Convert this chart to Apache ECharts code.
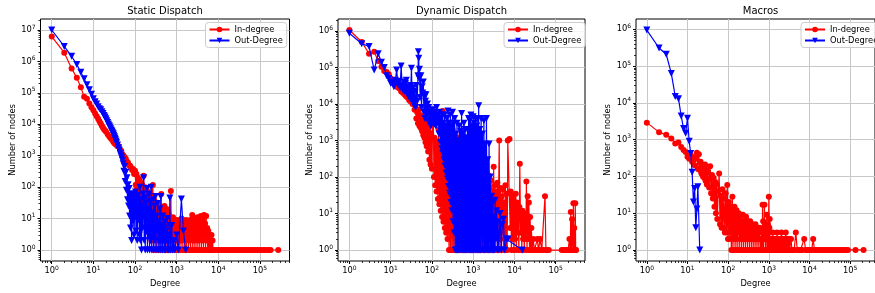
<!DOCTYPE html>
<html>
<head>
<meta charset="utf-8">
<script src="https://cdn.jsdelivr.net/npm/echarts@6/dist/echarts.min.js"></script>
<style>
  html, body { margin: 0; padding: 0; background: #fff; }
  #chart { width: 875px; height: 293px; }
</style>
</head>
<body>
<div id="chart"></div>
<script>
// panel titles and legend names
const titles = ['Static Dispatch', 'Dynamic Dispatch', 'Macros'];
const seriesNames = ['In-degree', 'Out-Degree'];

// major tick values (decades)
const xTicks = [1, 10, 100, 1e3, 1e4, 1e5];
const yTicksStatic = [1, 10, 100, 1e3, 1e4, 1e5, 1e6, 1e7];
const yTicksOther = [1, 10, 100, 1e3, 1e4, 1e5, 1e6];

// [degree, number of nodes]
const staticIn = [[1,6.2e6],[2,1.9e6],[3,6e5],[4,3e5],[5,1.5e5],[6,7.5e4],[7,6.5e4],[8,4.6e4],[9,3.5e4],[10,2.8e4],[11,2.2e4],[12,1.8e4],[13,1.5e4],[14,1.25e4],[15,1.05e4],[16,9e3],[17,7.8e3],[18,7e3],[19,6.4e3],[20,5.9e3],[22,4.8e3],[24,4.1e3],[26,3.6e3],[28,3.2e3],[30,2.8e3],[32,2.5e3],[34,2.3e3],[36,2.2e3],[38,2e3],[41,2e3],[44,1.5e3],[47,1.4e3],[50,1.1e3],[53,1e3],[56,900],[60,800],[64,650],[68,600],[72,500],[76,480],[80,420],[85,350],[90,380],[95,260],
  [100,330],[104,120],[108,260],[112,90],[117,200],[122,70],[127,170],[132,50],[137,140],[143,35],[149,120],[155,25],[161,230],[167,18],[174,100],[181,12],[188,85],[196,8],[204,70],[212,5],[220,60],[229,4],[238,50],[248,2],[258,45],[268,117],[279,1],[290,38],[302,3],[314,32],[326,1],[339,28],[353,2],[367,24],[382,1],
  [390,1],[402,22],[414,2],[426,60],[439,1],[452,18],[466,3],[480,15],[494,1],[509,25],[524,2],[540,12],[556,1],[573,20],[590,3],[608,10],[626,1],[645,14],[664,2],[684,9],[705,1],[726,75],[748,1],[770,8],[793,2],[817,11],[842,1],[867,7],[893,3],[920,9],[947,1],[976,6],[1005,2],[1035,9],[1066,1],[1098,7],[1131,2],[1165,5],[1200,1],[1236,8],[1273,2],[1311,10],[1351,1],[1391,6],[1433,3],[1476,8],[1520,1],[1566,7],[1613,2],[1661,9],[1711,1],[1762,6],[1815,3],[1870,8],[1926,1],[1984,7],[2043,2],[2104,9],[2168,1],[2233,6],[2300,3],[2369,13],[2440,1],[2513,7],[2588,2],[2666,10],[2746,1],[2828,8],[2913,3],[3000,6],[3090,1],[3183,11],[3278,2],[3377,8],[3478,1],[3582,9],[3690,3],[3800,12],[3914,1],[4032,6],[4153,2],[4277,9],[4406,1],[4538,13],[4674,3],[4814,7],[4959,1],[5107,12],[5261,2],[5418,5],[5581,1],[5748,4],[5921,1],[6098,3],[6281,1],[6470,2],[6664,1],[6864,3],[7070,1],[7282,2],[7500,1],
  [8500,1],[9500,1],[10500,1],[12000,1],[13500,1],[15000,1],[17000,1],[19000,1],[21500,1],[24000,1],[27000,1],[30000,1],[34000,1],[38000,1],[43000,1],[48000,1],[54000,1],[60000,1],[68000,1],[76000,1],[86000,1],[97000,1],[110000,1],[125000,1],[140000,1],[160000,1],[180000,1],[275000,1]];
const staticOut = [[1,1e7],[2,3e6],[3,1.45e6],[4,8e5],[5,4.5e5],[6,2.8e5],[7,1.8e5],[8,1.26e5],[9,9e4],[10,6.5e4],[11,5.2e4],[12,4.4e4],[13,3.6e4],[14,3.1e4],[15,2.9e4],[16,2.5e4],[17,2.2e4],[18,1.9e4],[19,1.7e4],[20,1.5e4],[21,1.3e4],[22,1.15e4],[23,1e4],[24,9e3],[25,8.2e3],[26,7.2e3],[27,6.5e3],[28,6e3],[29,5.4e3],[30,5e3],[31,4.5e3],[32,4e3],[33,3.6e3],[34,3.2e3],[35,2.9e3],[36,2.6e3],[38,2.2e3],[40,1.8e3],[42,1.5e3],[44,1.2e3],[46,1e3],[48,850],[50,700],[52,560],[54,320],[56,450],[58,150],[60,300],[62,80],[64,200],[66,40],[68,120],[70,25],[72,90],[74,12],[76,60],[78,5],[80,50],[83,2],[86,40],[89,8],[92,60],[95,3],[98,45],
  [100,12],[103,70],[106,4],[109,35],[113,2],[116,55],[120,9],[123,40],[127,3],[131,100],[135,2],[139,40],[143,1],[148,25],[152,5],[157,60],[161,200],[166,2],[171,45],[176,1],[182,30],[187,4],[193,90],[199,1],[205,20],[211,3],[217,60],[224,1],[230,35],[237,2],[244,100],[252,1],[259,15],[267,3],[275,40],[283,1],[292,25],[300,2],[309,50],[319,1],[328,12],[338,4],[348,30],[359,1],[370,8],[381,2],[392,20],[404,1],[416,50],[428,2],[441,6],[454,1],[468,12],[482,2],[497,5],[512,1],[527,8],[543,1],[559,4],[576,2],[593,10],[611,1],[629,3],[648,1],[668,6],[688,45],[708,1],
  [760,6],[800,1],[850,2],[900,1],[1000,3],[1100,1],[1300,42],[1450,4],[1650,1]];
const dynamicIn = [[1,1.07e6],[2,5e5],[3,2.4e5],[4,2.7e5],[5,1.5e5],[6,1.05e5],[7,8e4],[8,7.6e4],[9,6.5e4],[10,5e4],[11,4.6e4],[12,3.6e4],[13,4.2e4],[14,3e4],[15,3.4e4],[16,2.7e4],[17,2.9e4],[18,2.2e4],[19,3.2e4],[20,2e4],[21,2.4e4],[22,1.8e4],[23,2.1e4],[24,1.6e4],[25,2.4e4],[26,1.5e4],[27,1.9e4],[28,1.3e4],[29,1.6e4],[30,1.2e4],[32,1.5e4],[34,1e4],[36,1.2e4],[38,7e3],[40,9e3],[42,4e3],[44,6e3],[46,3e3],[48,7e3],[50,2.5e3],[52,5e3],[54,2.2e3],[56,4.5e3],[58,1.8e3],[60,4e3],[62,1.4e3],[64,3.5e3],[66,1.2e3],[68,3e3],[70,900],[72,2.6e3],[75,700],[78,2.2e3],[81,500],[84,1.8e3],[87,300],[90,2.5e3],[93,220],[96,1.5e3],[100,170],[104,3e3],[108,6e3],[112,100],[116,1.2e3],[120,60],[125,900],[130,40],[135,700],[140,25],[146,2e3],[152,18],[158,500],[164,12],[170,1.5e3],[177,8],[184,6.5e3],[191,6],[198,800],[206,4],[214,400],[222,3],[231,1.2e3],[240,2],[250,300],[260,1],[270,600],[282,1],[294,200],[306,1],[318,2e3],[330,1],[345,150],[360,1],[375,800],[390,1],[405,100],[420,1],[440,1200],[460,1],[480,80],[500,1],[525,1.7e3],[550,1],[575,60],[600,1],[630,200],[660,1],[690,40],[720,1],[750,120],[790,1],[830,30],[870,1],[910,80],[950,1],[1000,25],[1050,1],[1100,60],[1150,1],[1200,20],[1260,1],[1320,40],[1380,1],[1450,15],[1520,1],[1600,30],[1680,1],[1760,10],[1850,1],[1920,25],
  [2000,1],[2070,25],[2140,2],[2220,60],[2300,1],[2380,110],[2460,3],[2550,50],[2640,1],[2730,80],[2830,2],[2930,40],[3030,1],[3140,190],[3250,2],[3360,60],[3480,1],[3600,40],[3730,3],[3860,70],[3990,1],[4130,30],[4280,1000],[4430,2],[4580,50],[4740,1],[4910,30],[5080,3],[5260,45],[5440,1],[5630,20],[5830,2],[6030,60],[6240,1],[6460,35],[6690,1],[6900,1000],[7600,1100],[7900,4],[8150,40],[8450,1],[8750,30],[9050,2],[9350,25],[9700,1],[10000,18],[10400,2],[10800,35],[11100,1],[11500,20],[11900,3],[12300,12],[12800,1],[13200,15],[13500,230],[14100,3],[14600,10],[15100,1],[15600,12],[16200,2],[16800,8],[17300,1],[17900,6],[18600,2],[19200,10],[19500,75],[20200,1],[20900,30],[21600,2],[22400,20],[23200,1],[24000,8],[24800,1],[25700,4],
  [27000,1],[28500,2],[30500,1],[33000,1],[36000,2],[38000,1],[40000,1],[42000,2],[46000,1],[50000,1],[55000,30],[58000,1],[62000,1],[68000,1],[140000,1],[155000,1],[170000,1],[185000,1],[200000,1],[215000,2],[225000,1],[232000,11],[240000,1],[250000,7],[260000,1],[268000,19],[275000,1],[282000,4],[290000,1],[298000,19],[305000,1],[312000,1]];
const dynamicOut = [[1,8.7e5],[2,4.5e5],[3,3.8e5],[4,8.5e4],[5,2.4e5],[6,1.4e5],[7,1e5],[8,6e4],[9,5e4],[10,3.7e4],[11,4e4],[12,3e4],[13,4.5e4],[14,8.5e4],[15,3.5e4],[16,4.2e4],[17,2.8e4],[18,1.1e5],[19,3.2e4],[20,2.4e4],[21,4e4],[22,2.2e4],[23,3.6e4],[24,4.5e4],[25,2e4],[26,3e4],[27,1.6e4],[28,2.5e4],[30,1.4e4],[31,3.2e4],[32,9.5e4],[33,2e4],[34,1.2e4],[35,2.8e4],[36,1e4],[38,2.2e4],[40,8e3],[42,3.2e4],[44,1.2e4],[46,6e4],[47,2.7e5],[48,1.8e5],[49,5e4],[50,9e4],[52,1.5e4],[54,6e4],[56,8e3],[58,3e4],[60,2e4],[62,4e4],[64,6e3],[66,1.8e4],[68,4e3],[70,1.2e4],[72,1.8e4],[75,5e3],[78,1e4],[81,3.5e3],[84,8e3],[87,3e3],[90,6e3],[94,2.5e3],[98,5e3],
  [100,3.5e3],[104,7e3],[108,3e3],[112,6e3],[116,2.8e3],[120,5e3],[125,2.5e3],[130,8e3],[136,3.2e3],[142,5e3],[148,1.5e3],[154,6e3],[160,900],[166,4e3],[172,600],[178,5e3],[184,450],[190,3e3],[196,300],[202,5e3],[209,200],[216,2.5e3],[223,130],[230,4e3],[238,90],[246,6.5e3],[254,55],[262,3e3],[270,35],[279,5e3],[288,20],[297,2.5e3],[306,12],[316,6e3],[326,6],[336,3e3],[346,3],[357,4e3],[368,1],[380,1.5e3],[392,1],[405,3e3],[418,1],[432,1e3],[446,1],[461,2.5e3],[476,1],[492,1.8e3],[508,1],[525,5.5e3],[542,1],[560,1.5e3],[578,1],[597,3e3],[617,1],[637,2e3],[658,1],[680,1.2e3],[702,1],[725,2e3],[749,1],[774,4e3],[800,1],[826,3.5e3],[853,1],[881,5e3],[910,1],[940,2.5e3],[971,1],[1003,4.5e3],[1036,1],[1070,3e3],[1105,1],[1141,4e3],[1178,1],[1216,2.5e3],[1256,1],[1297,4e3],[1339,1],[1360,9e3],[1400,1],[1450,2e3],[1500,1],[1560,4e3],[1620,1],[1680,1.5e3],[1750,1],[1820,3.5e3],[1890,1],[1960,800],[2030,1],[2100,4e3],[2180,1],[2260,300],[2340,1],[2430,800],[2520,1],[2600,100],[2700,1],[2800,30],[2900,1],[3000,20],[3100,1],[3200,8],[3300,1],[3400,23],[3550,2],[3700,12],[3850,1],[4000,6],[4200,1],[4500,10],[4800,1],[5100,5],[5400,7],[5800,1],[6400,2],[7000,2],[15500,1]];
const macrosIn = [[1,2900],[2,1600],[3,1350],[4,1070],[5,780],[6,830],[7,630],[8,520],[9,460],[10,340],[11,300],[12,380],[13,250],[14,330],[15,200],[16,300],[17,440],[18,160],[19,400],[20,150],[21,250],[22,120],[23,200],[24,100],[25,170],[26,90],[27,210],[28,75],[29,150],[30,60],[32,130],[34,50],[36,190],[38,35],[40,110],[42,25],[44,90],[46,15],[48,70],[50,10],[52,60],[54,7],[57,40],[60,120],[63,5],[66,30],[69,4],[72,45],[75,4],[79,25],[83,3],[87,35],[91,3],[95,58],[99,2],[104,20],[109,2],[114,15],
  [120,1],[124,12],[127,28],[131,1],[135,9],[139,2],[143,15],[148,1],[152,8],[157,2],[161,12],[166,1],[171,6],[176,3],[182,10],[187,1],[193,7],[199,2],[205,9],[211,1],[217,5],[224,2],[230,9],[237,1],[244,6],[252,2],[259,4],[267,1],[275,8],[283,2],[292,5],[300,1],[309,6],[319,2],[328,4],[338,1],[348,6],[359,2],[370,3],[381,1],[392,5],[404,2],[416,4],[428,1],[441,3],[454,2],[468,5],[482,1],[497,3],[512,2],[527,4],[543,1],[559,3],[576,2],[593,4],[611,1],[629,2],[648,1],[668,3],[688,1],
  [700,17],[710,2],[725,6],[740,1],[760,4],[780,17],[795,2],[810,5],[830,1],[850,4],[870,2],[890,9],[905,1],[920,3],[935,2],[950,5],[965,1],[980,3],[1000,28],[1015,1],[1030,4],[1050,7],[1070,1],[1090,2],
  [1100,1],[1128,2],[1156,1],[1185,2],[1214,1],[1245,3],[1276,1],[1308,2],[1340,1],[1374,2],[1408,1],[1443,2],[1479,1],[1516,2],[1554,1],[1593,3],[1633,1],[1674,2],[1716,1],[1759,2],[1803,1],[1848,2],[1894,1],[1941,2],[1990,1],[2040,3],[2091,1],[2143,2],[2196,1],[2251,2],[2308,1],[2365,2],[2424,1],[2485,2],[2547,1],[2611,3],[2676,1],[2743,2],[2812,1],[2882,2],[2954,1],[3028,2],[3104,1],[3181,2],[3261,1],
  [3500,2],[3700,1],[3950,1],[4200,1],[4600,3],[5000,1],[5500,1],[6000,1],[6600,1],[7400,2],[8000,1],[8800,1],[9600,1],[10500,1],[11300,1],[12300,2],[13200,1],[14500,1],[16000,1],[18000,1],[20000,1],[22500,1],[25000,1],[28000,1],[31000,1],[35000,1],[39000,1],[44000,1],[50000,1],[56000,1],[63000,1],[71000,1],[80000,1],[88000,1],[135000,1],[213000,1]];
const macrosOut = [[1,9.5e5],[2,3.1e5],[3,2.1e5],[4,6.3e4],[5,1.5e4],[6,1.3e4],[7,4.4e3],[8,2e3],[9,1.5e3],[10,3.8e3],[11,900],[12,420],[13,130],[14,20],[15,47],[16,4],[17,13],[18,52],[20,1]];

const panelData = [[staticIn, staticOut], [dynamicIn, dynamicOut], [macrosIn, macrosOut]];

// layout of the three axes boxes (pixels) and their log10 limits
const panels = [
  { left: 40.5, width: 249, xr: [-0.27, 5.71], yr: [-0.35, 7.35], yTicks: yTicksStatic, legendLeft: 205.5 },
  { left: 338, width: 247, xr: [-0.275, 5.71], yr: [-0.30, 6.33], yTicks: yTicksOther, legendLeft: 504 },
  { left: 636, width: 249, xr: [-0.266, 5.61], yr: [-0.30, 6.28], yTicks: yTicksOther, legendLeft: 801 }
];

const FONT = 'DejaVu Sans';

// "10" with a raised exponent, like matplotlib's mathtext
function powLabel(v) {
  const e = Math.log10(v);
  const r = Math.round(e);
  if (Math.abs(e - r) > 1e-6) return '';
  return '{b|10}{s|' + r + '}';
}
const powRich = {
  b: { fontSize: 8.3, lineHeight: 12, fontFamily: FONT, color: '#000' },
  s: { fontSize: 6, lineHeight: 6, verticalAlign: 'top', fontFamily: FONT, color: '#000' }
};

function minorTicks(lo, hi) {
  const out = [];
  for (let e = Math.floor(lo); e <= Math.ceil(hi); e++) {
    for (let m = 2; m <= 9; m++) {
      const v = m * Math.pow(10, e);
      const lv = Math.log10(v);
      if (lv > lo && lv < hi) out.push(v);
    }
  }
  return out;
}

const grid = [], xAxis = [], yAxis = [], series = [], legend = [], graphic = [];

panels.forEach(function (p, i) {
  grid.push({
    left: p.left, top: 19, width: p.width, height: 242,
    show: true, borderColor: '#000', borderWidth: 1, backgroundColor: 'transparent'
  });
  xAxis.push({
    type: 'log', gridIndex: i, position: 'bottom',
    min: Math.pow(10, p.xr[0]), max: Math.pow(10, p.xr[1]),
    axisLine: { show: false, onZero: false },
    axisTick: { show: true, length: 3, customValues: xTicks, lineStyle: { color: '#000', width: 1 } },
    axisLabel: { show: true, customValues: xTicks, formatter: powLabel, rich: powRich, margin: 4 },
    splitLine: { show: true, lineStyle: { color: '#c8c8c8', width: 1 } },
    name: 'Degree', nameLocation: 'middle', nameGap: 17,
    nameTextStyle: { fontSize: 8.3, color: '#000', fontFamily: FONT }
  });
  yAxis.push({
    type: 'log', gridIndex: i, position: 'left',
    min: Math.pow(10, p.yr[0]), max: Math.pow(10, p.yr[1]),
    axisLine: { show: false, onZero: false },
    axisTick: { show: true, length: 3, customValues: p.yTicks, lineStyle: { color: '#000', width: 1 } },
    axisLabel: { show: true, customValues: p.yTicks, formatter: powLabel, rich: powRich, margin: 5 },
    splitLine: { show: true, lineStyle: { color: '#c8c8c8', width: 1 } },
    name: 'Number of nodes', nameLocation: 'middle', nameGap: 24,
    nameTextStyle: { fontSize: 8.3, color: '#000', fontFamily: FONT }
  });
  graphic.push({
    type: 'text', x: p.left + p.width / 2, y: 11,
    style: { text: titles[i], align: 'center', verticalAlign: 'middle', fontSize: 10, fontFamily: FONT, fill: '#000' }
  });
  legend.push({
    orient: 'vertical', left: p.legendLeft, top: 22.5,
    itemWidth: 20, itemHeight: 7, itemGap: 3,
    padding: [3, 4, 3, 3],
    backgroundColor: 'rgba(255,255,255,0.8)', borderColor: '#cccccc', borderWidth: 1, borderRadius: 3,
    textStyle: { fontSize: 8.3, color: '#000', fontFamily: FONT },
    selectedMode: false,
    data: seriesNames
  });
  series.push({
    name: seriesNames[0], type: 'line', xAxisIndex: i, yAxisIndex: i,
    data: panelData[i][0],
    symbol: 'circle', symbolSize: 6, showSymbol: true, showAllSymbol: true,
    itemStyle: { color: '#ff0000' }, lineStyle: { color: '#ff0000', width: 1.2 },
    silent: true, animation: false, z: 3
  });
  series.push({
    name: seriesNames[1], type: 'line', xAxisIndex: i, yAxisIndex: i,
    data: panelData[i][1],
    symbol: 'triangle', symbolRotate: 180, symbolSize: 7, showSymbol: true, showAllSymbol: true,
    itemStyle: { color: '#0000ff' }, lineStyle: { color: '#0000ff', width: 1.2 },
    silent: true, animation: false, z: 4
  });
});

// minor ticks on extra axes sharing each grid
panels.forEach(function (p, i) {
  xAxis.push({
    type: 'log', gridIndex: i, position: 'bottom',
    min: Math.pow(10, p.xr[0]), max: Math.pow(10, p.xr[1]),
    axisLine: { show: false, onZero: false }, axisLabel: { show: false }, splitLine: { show: false },
    axisTick: { show: true, length: 2, customValues: minorTicks(p.xr[0], p.xr[1]), lineStyle: { color: '#000', width: 0.8 } }
  });
  yAxis.push({
    type: 'log', gridIndex: i, position: 'left',
    min: Math.pow(10, p.yr[0]), max: Math.pow(10, p.yr[1]),
    axisLine: { show: false, onZero: false }, axisLabel: { show: false }, splitLine: { show: false },
    axisTick: { show: true, length: 2, customValues: minorTicks(p.yr[0], p.yr[1]), lineStyle: { color: '#000', width: 0.8 } }
  });
});

const chart = echarts.init(document.getElementById('chart'), null, { renderer: 'canvas' });
chart.setOption({
  animation: false,
  backgroundColor: '#fff',
  textStyle: { fontFamily: FONT },
  grid: grid,
  xAxis: xAxis,
  yAxis: yAxis,
  legend: legend,
  graphic: graphic,
  series: series
});
</script>
</body>
</html>
